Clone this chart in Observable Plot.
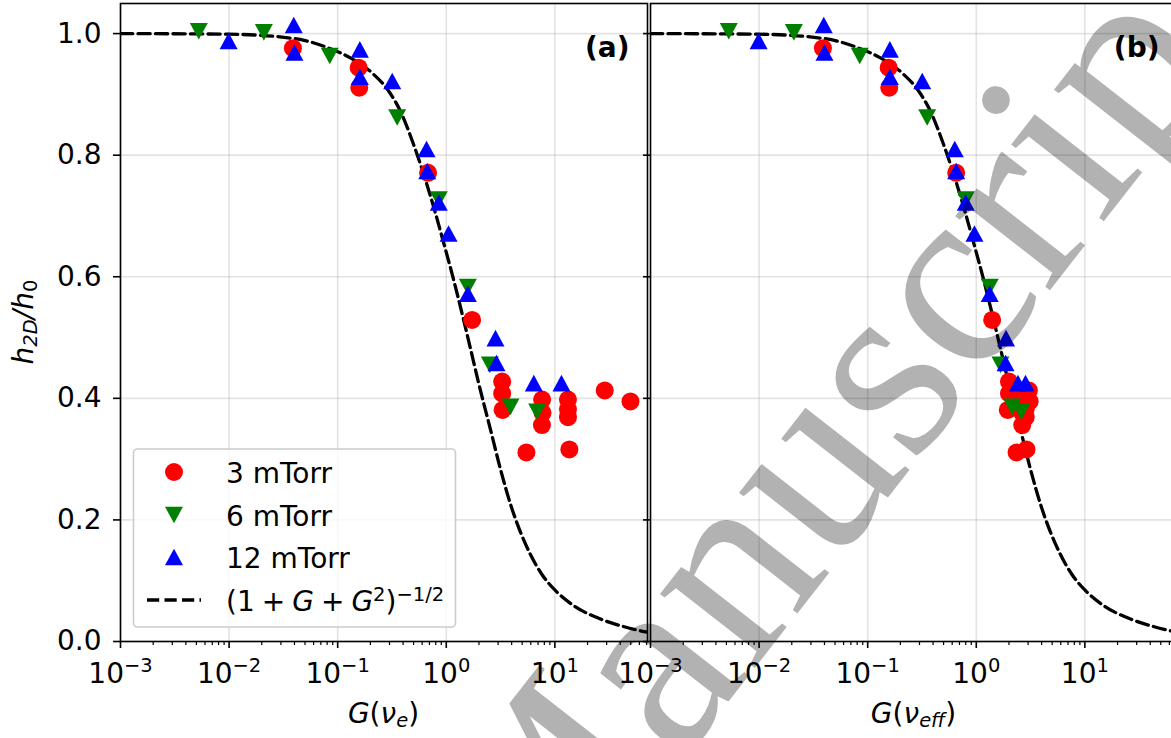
<!DOCTYPE html>
<html><head><meta charset="utf-8">
<script src="https://cdn.jsdelivr.net/npm/d3@7"></script>
<script src="https://cdn.jsdelivr.net/npm/@observablehq/plot@0.6"></script>
<style>
html,body{margin:0;padding:0;background:#fff;overflow:hidden;}
#wrap{position:relative;width:1171px;height:738px;overflow:hidden;background:#fff;font-family:"DejaVu Sans",sans-serif;}
#wrap svg{position:absolute;top:0;max-width:none;}
</style></head><body><div id="wrap"></div>
<script>
// ---------- data ----------
const xMajorTicks = [1e-3, 1e-2, 1e-1, 1, 10];
const yTicks = [0, 0.2, 0.4, 0.6, 0.8, 1.0];
const seriesNames = ["3 mTorr", "6 mTorr", "12 mTorr"];

// 3 mTorr
const redH  = [0.976, 0.944, 0.911, 0.771, 0.529, 0.4275, 0.408, 0.381, 0.398, 0.376, 0.356, 0.398, 0.382, 0.369, 0.413, 0.395, 0.311, 0.316];
const redGa = [0.0387, 0.156, 0.158, 0.68, 1.73, 3.27, 3.27, 3.3, 7.63, 7.7, 7.6, 13.2, 13.2, 13.2, 28.8, 49.7, 5.47, 13.6];
const redGb = [0.0387, 0.156, 0.158, 0.653, 1.40, 2.0, 2.0, 1.95, 2.65, 2.65, 2.65, 2.85, 2.85, 2.85, 3.05, 3.1, 2.35, 2.9];
// 6 mTorr
const greenH  = [1.004, 1.002, 0.963, 0.862, 0.727, 0.583, 0.455, 0.386, 0.378];
const greenGa = [0.00526, 0.0209, 0.0845, 0.353, 0.853, 1.58, 2.52, 3.9, 6.87];
const greenGb = [0.00526, 0.0209, 0.0845, 0.353, 0.80, 1.33, 1.67, 2.14, 2.6];
// 12 mTorr
const blueH  = [0.988, 1.014, 0.969, 0.974, 0.929, 0.922, 0.81, 0.774, 0.722, 0.671, 0.572, 0.499, 0.458, 0.425, 0.425];
const blueGa = [0.0099, 0.0394, 0.04, 0.160, 0.160, 0.318, 0.658, 0.668, 0.853, 1.05, 1.58, 2.84, 2.9, 6.4, 11.5];
const blueGb = [0.0099, 0.0394, 0.04, 0.160, 0.160, 0.318, 0.634, 0.653, 0.80, 0.962, 1.33, 1.88, 1.86, 2.42, 2.84];

// dashed curve (1+G+G^2)^(-1/2)
const curveG = [0.001, 0.0099, 0.0392, 0.0859, 0.131, 0.214, 0.288, 0.379, 0.499, 0.616, 0.762, 0.942, 1.165, 1.44, 1.67, 1.98, 2.55, 3.16, 3.90, 4.82, 5.96, 7.69, 10.35, 15.5, 26.3, 40.2, 71.3, 219];
const curveH = [1.0, 0.999, 0.992, 0.975, 0.960, 0.933, 0.908, 0.872, 0.818, 0.770, 0.716, 0.657, 0.596, 0.530, 0.482, 0.426, 0.349, 0.283, 0.226, 0.180, 0.143, 0.109, 0.082, 0.057, 0.037, 0.026, 0.0155, 0.0085];

// ---------- styling ----------
const FS = 28, SUB = 19.5;
const xDomain = [1e-3, 71.3];
const yDomain = [0, 1.0495];
const minorTicks = [];
for (let d = -3; d <= 1; d++) for (let k = 2; k <= 9; k++) { const v = k * Math.pow(10, d); if (v <= xDomain[1]) minorTicks.push(v); }

const triUp = {draw(c, s) { const r = Math.sqrt(s / Math.PI); c.moveTo(0, -0.92 * r); c.lineTo(r, 0.92 * r); c.lineTo(-r, 0.92 * r); c.closePath(); }};
const triDown = {draw(c, s) { const r = Math.sqrt(s / Math.PI); c.moveTo(0, 0.92 * r); c.lineTo(r, -0.92 * r); c.lineTo(-r, -0.92 * r); c.closePath(); }};
const DASH = "12.2,5.3", LW = 3.3;
const idx = a => d3.range(a.length);

function panel(gr, gg, gb, label, mLeft, yLabels) {
  return Plot.plot({
    width: mLeft + 527 + 13, height: 738,
    marginLeft: mLeft, marginRight: 13, marginTop: 3, marginBottom: 97,
    style: {background: "transparent", overflow: "visible", fontFamily: "DejaVu Sans", fontSize: FS + "px", color: "black", maxWidth: "none"},
    x: {type: "log", domain: xDomain},
    y: {domain: yDomain},
    marks: [
      Plot.gridX(xMajorTicks, {stroke: "#b0b0b0", strokeOpacity: 0.35, strokeWidth: 1.6}),
      Plot.gridY(yTicks, {stroke: "#b0b0b0", strokeOpacity: 0.35, strokeWidth: 1.6}),
      Plot.line(idx(curveG), {x: i => curveG[i], y: i => curveH[i], stroke: "black", strokeWidth: LW, strokeDasharray: DASH, curve: "monotone-x", clip: true}),
      Plot.dot(idx(redH), {x: i => gr[i], y: i => redH[i], r: 9, fill: "red", symbol: "circle"}),
      Plot.dot(idx(greenH), {x: i => gg[i], y: i => greenH[i], r: 9, fill: "green", symbol: triDown}),
      Plot.dot(idx(blueH), {x: i => gb[i], y: i => blueH[i], r: 9, fill: "blue", symbol: triUp}),
      Plot.frame({stroke: "black", strokeWidth: 1.6}),
      Plot.axisX(minorTicks, {tickSize: 4, strokeWidth: 1.2, tickFormat: () => "", label: null}),
      Plot.axisX(xMajorTicks, {tickSize: 7, tickPadding: 15, strokeWidth: 1.6, fontSize: FS, label: null,
        tickFormat: d => "10^" + Math.round(Math.log10(d))}),
      Plot.axisY(yTicks, {tickSize: 7, tickPadding: 12, strokeWidth: 1.6, fontSize: FS, label: null,
        tickFormat: yLabels ? d3.format(".1f") : () => ""}),
      Plot.text([label], {frameAnchor: "top-right", dx: -18, dy: 34, textAnchor: "end", fontWeight: "bold", fontSize: FS})
    ]
  });
}

function supify(svg) {
  d3.select(svg).selectAll("text").each(function () {
    const m = /^10\^(-?\d+)$/.exec(this.textContent);
    if (!m) return;
    const el = d3.select(this); el.text("");
    el.append("tspan").text("10");
    el.append("tspan").attr("dy", -11).attr("font-size", SUB + "px").text(m[1].replace("-", "\u2212"));
  });
}

function xLabel(svg, cx, sub) {
  const t = d3.select(svg).append("text").attr("x", cx).attr("y", 723).attr("text-anchor", "middle")
    .attr("font-family", "DejaVu Sans").attr("font-size", FS).attr("fill", "black");
  t.append("tspan").attr("font-style", "italic").text("G");
  t.append("tspan").text("(");
  t.append("tspan").attr("font-style", "italic").text("ν");
  t.append("tspan").attr("font-style", "italic").attr("font-size", SUB).attr("dy", 4).text(sub);
  t.append("tspan").attr("dy", -4).text(")");
}

const wrap = document.getElementById("wrap");

// panel (a)
const svgA = panel(redGa, greenGa, blueGa, "(a)", 120, true);
svgA.style.left = "0px";
wrap.appendChild(svgA);
supify(svgA);
xLabel(svgA, 383.5, "e");
{
  const t = d3.select(svgA).append("text").attr("transform", "translate(33,322) rotate(-90)")
    .attr("text-anchor", "middle").attr("font-family", "DejaVu Sans").attr("font-size", FS).attr("fill", "black");
  t.append("tspan").attr("font-style", "italic").text("h");
  t.append("tspan").attr("font-style", "italic").attr("font-size", SUB).attr("dy", 4).text("2D");
  t.append("tspan").attr("font-style", "italic").attr("dy", -4).text("/h");
  t.append("tspan").attr("font-size", SUB).attr("dy", 4).text("0");
}
// legend
{
  const g = d3.select(svgA).append("g").attr("text-anchor", "start");
  g.append("rect").attr("x", 133.5).attr("y", 449).attr("width", 322).attr("height", 178).attr("rx", 4)
    .attr("fill", "white").attr("fill-opacity", 0.8).attr("stroke", "#cccccc").attr("stroke-width", 1.6);
  const rows = [472, 515, 557, 600];
  const cols = ["red", "green", "blue"];
  const syms = [d3.symbolCircle, triDown, triUp];
  seriesNames.forEach((name, i) => {
    g.append("path").attr("transform", `translate(174,${rows[i]})`)
      .attr("d", d3.symbol(syms[i], 81 * Math.PI)()).attr("fill", cols[i]);
    g.append("text").attr("x", 226).attr("y", rows[i] + 10.5).attr("text-anchor", "start").attr("font-family", "DejaVu Sans")
      .attr("font-size", FS).attr("fill", "black").text(name);
  });
  g.append("line").attr("x1", 147).attr("x2", 201).attr("y1", rows[3]).attr("y2", rows[3])
    .attr("stroke", "black").attr("stroke-width", LW).attr("stroke-dasharray", DASH);
  const t = g.append("text").attr("x", 226).attr("y", rows[3] + 10.5).attr("text-anchor", "start").attr("font-family", "DejaVu Sans")
    .attr("font-size", FS).attr("fill", "black");
  t.append("tspan").text("(1\u2005+\u2005");
  t.append("tspan").attr("font-style", "italic").text("G");
  t.append("tspan").text("\u2005+\u2005");
  t.append("tspan").attr("font-style", "italic").text("G");
  t.append("tspan").attr("font-size", SUB).attr("dy", -10).text("2");
  t.append("tspan").attr("dy", 10).text(")");
  t.append("tspan").attr("font-size", SUB).attr("dy", -10).text("\u22121/2");
}

// panel (b)
const svgB = panel(redGb, greenGb, blueGb, "(b)", 40, false);
svgB.style.left = "610px";
wrap.appendChild(svgB);
supify(svgB);
xLabel(svgB, 303.5, "eff");

// watermark
{
  const w = d3.select(wrap).append("svg").attr("width", 1171).attr("height", 738)
    .style("left", "0px").style("pointer-events", "none");
  w.append("text").attr("transform", "translate(536,948) rotate(-52)")
    .attr("font-family", "Liberation Serif").attr("font-size", 262)
    .attr("fill", "black").attr("fill-opacity", 0.3).text("Manuscript");
}
</script></body></html>
